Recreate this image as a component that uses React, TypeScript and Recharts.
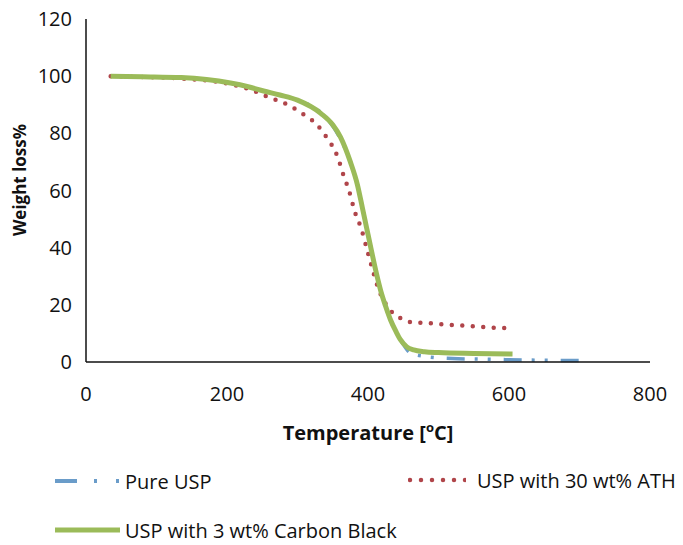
import { LineChart, Line, XAxis, YAxis } from "recharts";

// Temperature (°C) and remaining weight (%) for each sample
const pureTemp = [35, 80, 135, 205, 230, 252, 275, 300, 337, 358, 375, 385, 392, 398, 404, 411, 418, 425, 432, 440, 448, 460, 480, 520, 560, 600, 650, 700];
const pureWeight = [100, 99.8, 99.5, 97.6, 96.3, 94.8, 93.4, 91.6, 86.4, 79.4, 70, 62, 54, 47, 40, 32, 25, 19.5, 14.7, 10.5, 7, 3.2, 2, 1.2, 1, 0.8, 0.6, 0.5];

const athTemp = [35, 80, 135, 205, 230, 258, 286, 314, 326, 337, 347, 357, 365, 373, 382, 390, 399, 408, 415, 422, 432, 446, 460, 490, 517, 550, 578, 595];
const athWeight = [100, 99.7, 99.2, 97.2, 95.6, 92.7, 90, 85.7, 83.5, 80, 76.6, 71.7, 65.5, 60, 52, 47, 39, 31, 25.5, 21.7, 18, 15.4, 14, 13.5, 13, 12.5, 12, 11.9];

const cbTemp = [35, 80, 135, 205, 230, 252, 275, 300, 333, 350, 361, 375, 385, 392, 398, 404, 411, 418, 425, 432, 440, 446, 455, 465, 480, 500, 550, 605];
const cbWeight = [100, 99.8, 99.5, 97.6, 96.3, 94.8, 93.4, 91.6, 87, 83, 78.7, 70, 62, 54, 47, 40, 32, 25, 19.5, 14.7, 10.5, 7.8, 5.3, 4.2, 3.6, 3.3, 3, 2.8];

const xTicks = [0, 200, 400, 600, 800];
const yTicks = [0, 20, 40, 60, 80, 100, 120];

const toPoints = (t: number[], w: number[]) => t.map((x, i) => ({ t: x, w: w[i] }));

const pureData = toPoints(pureTemp, pureWeight);
const athData = toPoints(athTemp, athWeight);
const cbData = toPoints(cbTemp, cbWeight);

const FONT = "'Open Sans', sans-serif";
const BLUE = "#6a9cc9";
const RED = "#b0454a";
const GREEN = "#9bbb59";

const tickStyle = { fontSize: 20, fill: "#111", fontFamily: FONT };

function LegendItem({ kind, label, left, top, iconWidth, gap }: { kind: "pure" | "ath" | "cb"; label: string; left: number; top: number; iconWidth: number; gap: number }) {
  return (
    <div style={{ position: "absolute", left, top, height: 28, display: "flex", alignItems: "center", fontFamily: FONT, fontSize: 20, color: "#111", whiteSpace: "nowrap" }}>
      <svg width={iconWidth} height={12} style={{ marginRight: gap }}>
        {kind === "pure" && (
          <line x1={0} y1={6} x2={iconWidth} y2={6} stroke={BLUE} strokeWidth={4} strokeDasharray="22 17 3 19 3 19" />
        )}
        {kind === "ath" && (
          <line x1={2} y1={6} x2={iconWidth} y2={6} stroke={RED} strokeWidth={4.5} strokeLinecap="round" strokeDasharray="0 11" />
        )}
        {kind === "cb" && <line x1={0} y1={6} x2={iconWidth} y2={6} stroke={GREEN} strokeWidth={5} />}
      </svg>
      {label}
    </div>
  );
}

export default function App() {
  return (
    <div style={{ position: "absolute", left: 0, top: 0, width: 683, height: 545, background: "#fff" }}>
      <LineChart width={683} height={545} margin={{ top: 19, right: 33, bottom: 113, left: 16 }}>
        <XAxis
          type="number"
          dataKey="t"
          domain={[0, 800]}
          ticks={xTicks}
          tick={tickStyle}
          tickLine={false}
          tickMargin={19}
          axisLine={{ stroke: "#111", strokeWidth: 1.5 }}
          height={70}
          label={{
            content: () => (
              <text x={368} y={440} textAnchor="middle" fontFamily={FONT} fontSize={20} fontWeight="bold" fill="#111">
                Temperature [
                <tspan fontSize={13} dy={-8}>o</tspan>
                <tspan dy={8}>C]</tspan>
              </text>
            ),
          }}
        />
        <YAxis
          type="number"
          dataKey="w"
          domain={[0, 120]}
          ticks={yTicks}
          tick={tickStyle}
          tickLine={false}
          tickMargin={8}
          width={70}
          axisLine={{ stroke: "#111", strokeWidth: 1.5 }}
          label={{
            content: () => (
              <text x={26} y={180} transform="rotate(-90 26 180)" textAnchor="middle" fontFamily={FONT} fontSize={17} fontWeight="bold" fill="#111">
                Weight loss%
              </text>
            ),
          }}
        />
        <Line data={pureData} dataKey="w" type="monotone" stroke={BLUE} strokeWidth={3.5} strokeDasharray="18 10 3 10 3 13" dot={false} isAnimationActive={false} />
        <Line data={athData} dataKey="w" type="monotone" stroke={RED} strokeWidth={4.5} strokeLinecap="round" strokeDasharray="0 10.5" dot={false} isAnimationActive={false} />
        <Line data={cbData} dataKey="w" type="monotone" stroke={GREEN} strokeWidth={5} dot={false} isAnimationActive={false} />
      </LineChart>
      <LegendItem kind="pure" label="Pure USP" left={55} top={467} iconWidth={65} gap={5} />
      <LegendItem kind="ath" label="USP with 30 wt% ATH" left={408} top={466} iconWidth={58} gap={11} />
      <LegendItem kind="cb" label="USP with 3 wt% Carbon Black" left={55} top={516} iconWidth={65} gap={5} />
    </div>
  );
}
